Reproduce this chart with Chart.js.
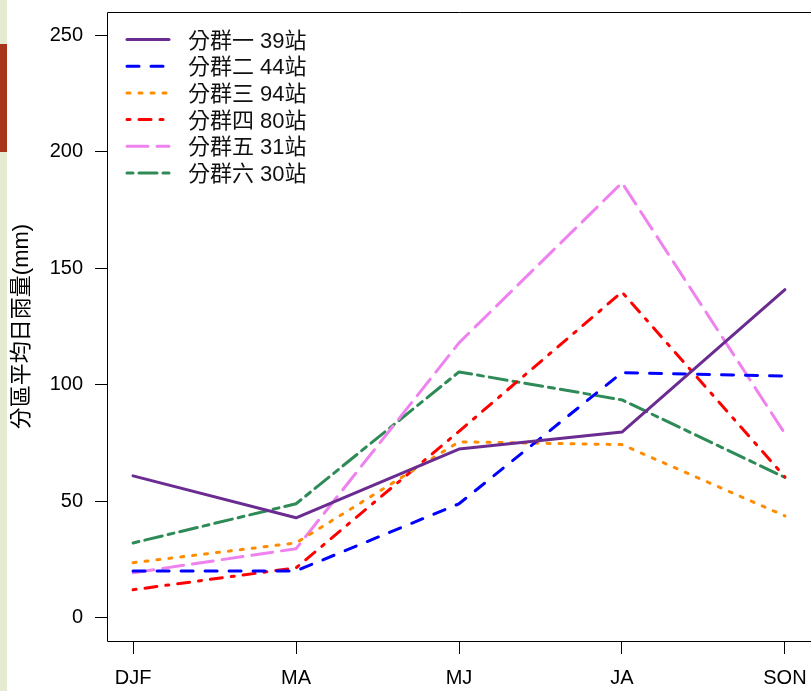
<!DOCTYPE html>
<html>
<head>
<meta charset="utf-8">
<script src="https://cdn.jsdelivr.net/npm/chart.js@4/dist/chart.umd.min.js"></script>
<style>
  html, body { margin: 0; padding: 0; background: #fff; }
  #wrap { position: relative; width: 811px; height: 691px; overflow: hidden; }
  #strip { position: absolute; left: 0; top: 0; width: 7px; height: 691px; background: #e4ebd2; }
  #tab { position: absolute; left: 0; top: 44px; width: 7px; height: 108px; background: #a8341b; }
  canvas { position: absolute; left: 0; top: 0; }
</style>
</head>
<body>
<div id="wrap">
  <div id="strip"></div>
  <div id="tab"></div>
  <canvas id="rainChart" width="811" height="691"></canvas>
</div>
<script>
// seasons on the x axis, ticks on the y axis
const seasons = ['DJF', 'MA', 'MJ', 'JA', 'SON'];
const yTicks = [0, 50, 100, 150, 200, 250];

// legend names
const groupNames = ['分群一 39站', '分群二 44站', '分群三 94站', '分群四 80站', '分群五 31站', '分群六 30站'];

// mean daily rainfall per group (mm)
const group1 = [60.9, 42.9, 72.4, 79.7, 140.8];
const group2 = [20.1, 20.1, 48.9, 105.2, 103.7];
const group3 = [23.6, 32.1, 75.5, 74.3, 43.7];
const group4 = [12.0, 21.4, 80.0, 139.8, 60.4];
const group5 = [19.3, 29.6, 118.0, 186.7, 79.0];
const group6 = [32.1, 48.9, 105.5, 93.5, 60.2];

const FONT = '"Liberation Sans", Arial, "Noto Sans CJK TC", sans-serif';

function series(vals) {
    return vals.map(function (v, i) { return { x: i + 1, y: v }; });
}

const styles = [
    { color: '#6a2c91', dash: [] },
    { color: '#0000ff', dash: [12, 12] },
    { color: '#ff8c00', dash: [3, 9] },
    { color: '#ff0000', dash: [3, 9, 12, 9] },
    { color: '#ee82ee', dash: [21, 9] },
    { color: '#2e8b57', dash: [6, 6, 18, 6] }
];
const allGroups = [group1, group2, group3, group4, group5, group6];

const datasets = allGroups.map(function (vals, i) {
    return {
        label: groupNames[i],
        data: series(vals),
        borderColor: styles[i].color,
        borderDash: styles[i].dash,
        borderWidth: 3,
        borderCapStyle: 'round',
        borderJoinStyle: 'round',
        pointRadius: 0,
        fill: false,
        tension: 0
    };
});

// box around the plot + legend in the top-left corner
const boxAndLegend = {
    id: 'boxAndLegend',
    afterDraw(chart) {
        const ctx = chart.ctx;
        const a = chart.chartArea;
        ctx.save();
        ctx.strokeStyle = '#000';
        ctx.lineWidth = 1;
        ctx.setLineDash([]);
        ctx.beginPath();
        ctx.moveTo(a.right + 2, a.top + 0.5);
        ctx.lineTo(a.left + 0.5, a.top + 0.5);
        ctx.lineTo(a.left + 0.5, a.bottom + 0.5);
        ctx.lineTo(a.right + 2, a.bottom + 0.5);
        ctx.stroke();

        const x0 = a.left + 20, x1 = a.left + 62, tx = a.left + 81;
        ctx.font = '22px ' + FONT;
        ctx.textBaseline = 'middle';
        ctx.textAlign = 'left';
        chart.data.datasets.forEach(function (ds, i) {
            const y = a.top + 27.5 + i * 26.7;
            ctx.strokeStyle = ds.borderColor;
            ctx.lineWidth = ds.borderWidth;
            ctx.lineCap = 'round';
            ctx.setLineDash(ds.borderDash);
            ctx.beginPath();
            ctx.moveTo(x0, y);
            ctx.lineTo(x1, y);
            ctx.stroke();
            ctx.setLineDash([]);
            ctx.fillStyle = '#111';
            ctx.fillText(ds.label, tx, y + 2);
        });
        ctx.restore();
    }
};

new Chart(document.getElementById('rainChart'), {
    type: 'line',
    data: { datasets: datasets },
    options: {
        responsive: false,
        animation: false,
        layout: { padding: { top: 12, left: 0, right: 0, bottom: 0 } },
        scales: {
            x: {
                type: 'linear',
                min: 0.84,
                max: 5.16,
                afterBuildTicks: function (s) { s.ticks = seasons.map(function (_, i) { return { value: i + 1 }; }); },
                afterFit: function (s) { s.height = 50; s.paddingLeft = 0; s.paddingRight = 0; },
                ticks: {
                    callback: function (v) { return seasons[Math.round(v) - 1]; },
                    font: { size: 20, family: FONT },
                    color: '#000',
                    padding: 12,
                    maxRotation: 0,
                    autoSkip: false
                },
                grid: { drawOnChartArea: false, drawTicks: true, tickLength: 13, tickColor: '#000' },
                border: { display: false }
            },
            y: {
                min: -10,
                max: 260,
                afterBuildTicks: function (s) { s.ticks = yTicks.map(function (v) { return { value: v }; }); },
                afterFit: function (s) { s.width = 107; s.paddingTop = 0; s.paddingBottom = 0; },
                ticks: {
                    font: { size: 20, family: FONT },
                    color: '#000',
                    padding: 12
                },
                grid: { drawOnChartArea: false, drawTicks: true, tickLength: 12, tickColor: '#000' },
                border: { display: false },
                title: {
                    display: true,
                    text: '分區平均日雨量(mm)',
                    font: { size: 22, family: FONT },
                    color: '#000',
                    padding: { top: 9, bottom: 0 }
                }
            }
        },
        plugins: {
            legend: { display: false },
            tooltip: { enabled: false }
        }
    },
    plugins: [boxAndLegend]
});
</script>
</body>
</html>
